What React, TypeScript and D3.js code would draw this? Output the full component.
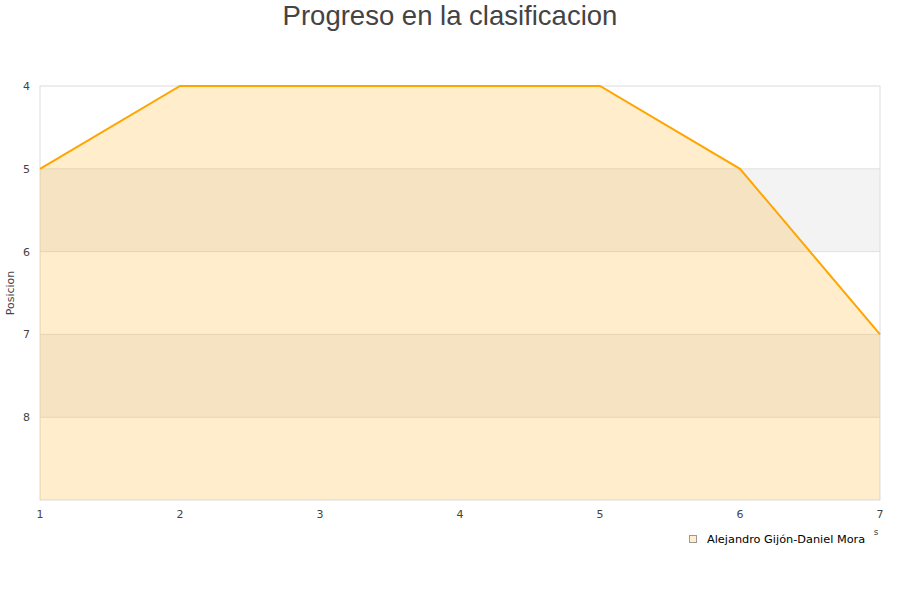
import React from "react";
import * as d3 from "d3";

const rounds = [1, 2, 3, 4, 5, 6, 7];
const positions = [5, 4, 4, 4, 4, 5, 7];
const yTicks = [4, 5, 6, 7, 8];
const bands = [[5, 6], [7, 8]];
const seriesName = "Alejandro Gijón-Daniel Mora";
const title = "Progreso en la clasificacion";
const yTitle = "Posicion";

export default function App() {
  const W = 900, H = 600;
  const left = 40, right = 880, top = 86, bottom = 500;
  const x = d3.scaleLinear().domain([1, 7]).range([left, right]);
  const y = d3.scaleLinear().domain([4, 9]).range([top, bottom]);
  const data = rounds.map((r, i) => ({ r, p: positions[i] }));
  const line = d3.line<{ r: number; p: number }>().x(d => x(d.r)).y(d => y(d.p));
  const area = d3.area<{ r: number; p: number }>().x(d => x(d.r)).y0(bottom).y1(d => y(d.p));
  const font = "DejaVu Sans, sans-serif";
  return (
    <svg width={W} height={H} style={{ position: "absolute", left: 0, top: 0, background: "#fff" }} fontFamily={font}>
      <text x={450} y={25} textAnchor="middle" fontSize={27.5} fill="#444" fontFamily="Liberation Sans, Arial, sans-serif">{title}</text>
      {bands.map(([a, b], i) => (
        <rect key={i} x={left} y={y(a)} width={right - left} height={y(b) - y(a)} fill="#f3f3f3" />
      ))}
      {yTicks.slice(1).map(t => (
        <line key={t} x1={left} x2={right} y1={y(t)} y2={y(t)} stroke="#e0e0e0" strokeWidth={1} />
      ))}
      <rect x={left} y={top} width={right - left} height={bottom - top} fill="none" stroke="#dcdcdc" strokeWidth={1} />
      <path d={area(data) || ""} fill="#ffa500" fillOpacity={0.2} />
      <path d={line(data) || ""} fill="none" stroke="#ffa500" strokeWidth={2} />
      {yTicks.map(t => (
        <text key={t} x={30} y={y(t) + 4} textAnchor="end" fontSize={11} fill="#444">{t}</text>
      ))}
      {rounds.map(r => (
        <text key={r} x={x(r)} y={518} textAnchor="middle" fontSize={11} fill="#444">{r}</text>
      ))}
      <text transform={`translate(14,${(top + bottom) / 2}) rotate(-90)`} textAnchor="middle" fontSize={11} fill="#444">{yTitle}</text>
      <text x={876} y={535} textAnchor="middle" fontSize={9} fill="#444">s</text>
      <rect x={689.5} y={535.5} width={7} height={7} fill="#ffedcc" stroke="#999" strokeWidth={1} />
      <text x={707} y={543} fontSize={11.3} fill="#000">{seriesName}</text>
    </svg>
  );
}
